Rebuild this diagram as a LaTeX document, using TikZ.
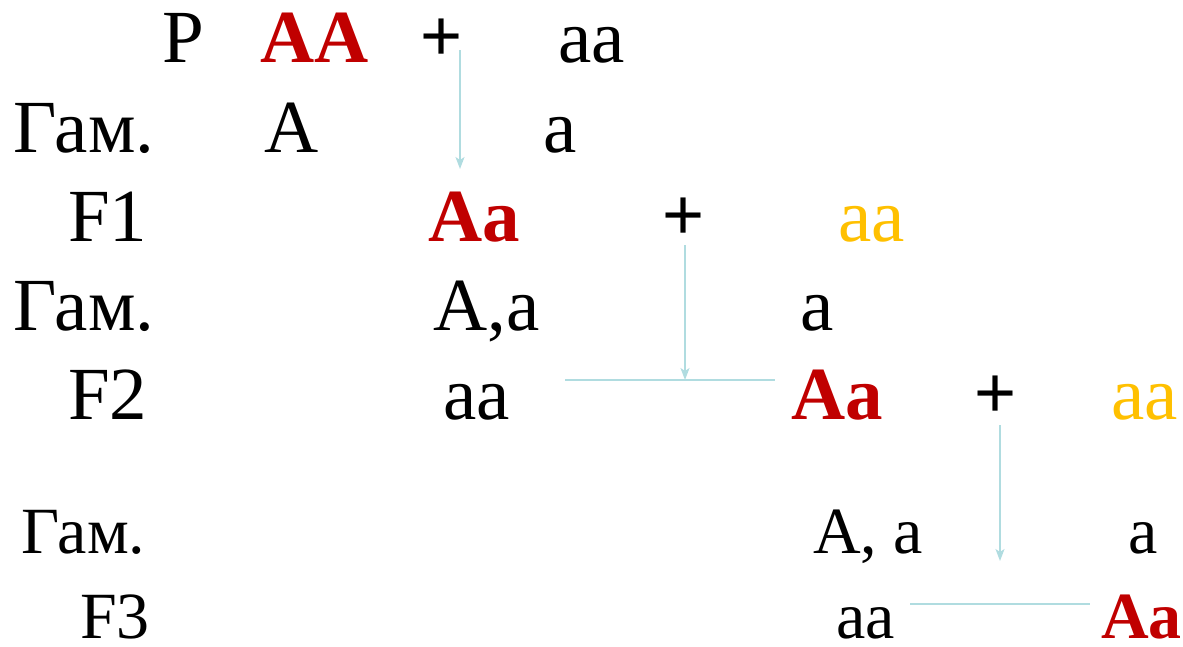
\documentclass[tikz,border=0pt]{standalone}
\usepackage{fontspec}
\setmainfont{Liberation Serif}
\newfontfamily\timesrm{Liberation Serif}
\newfontfamily\plusfont{Liberation Sans}
\usetikzlibrary{arrows.meta}
\definecolor{allele}{HTML}{C00000}
\definecolor{recess}{HTML}{FFC000}
\definecolor{link}{HTML}{B0DCE0}

\begin{document}
\begin{tikzpicture}[x=1pt,y=-1pt]
                \tikzstyle{lbl}=[anchor=base west,inner sep=0pt,text depth=0pt,font=\timesrm\fontsize{75}{80}\selectfont]
                \tikzstyle{lbls}=[anchor=base west,inner sep=0pt,text depth=0pt,font=\timesrm\fontsize{66}{70}\selectfont]
                \tikzstyle{dom}=[text=allele,font=\timesrm\fontsize{75}{80}\selectfont\bfseries]
                \tikzstyle{doms}=[text=allele,font=\timesrm\fontsize{66}{70}\selectfont\bfseries]
                \tikzstyle{rec}=[text=recess]
                \tikzstyle{plus}=[lbl,font=\plusfont\fontsize{72}{76}\selectfont]
                \tikzstyle{cross}=[draw=link,line width=1.6pt]
                \tikzstyle{feed}=[cross,-{Stealth[length=12pt,width=9pt,inset=3pt]}]
                \useasboundingbox (0,0) rectangle (1183,646);

                % row labels
                \foreach \name/\txt/\x/\y in {p/P/162/62, g1/Гам./13/152, f1/F1/68/241,
                                             g2/Гам./13/330, f2/F2/68/419}
                        \node[lbl] (L-\name) at (\x,\y) {\txt};
                \foreach \name/\txt/\x/\y in {g3/Гам./21/553, f3/F3/80/638}
                        \node[lbls] (L-\name) at (\x,\y) {\txt};

                % parents and gametes
                \node[lbl,dom] (AA) at (260,62) {AA};
                \node[plus] (plus1) at (420,60) {+};
                \node[lbl] (aa1) at (558,62) {aa};
                \node[lbl] (gA) at (264,152) {A};
                \node[lbl] (ga1) at (543,152) {a};

                \node[lbl,dom] (Aa1) at (428,241) {Aa};
                \node[plus] (plus2) at (662,239) {+};
                \node[lbl,rec] (aa2) at (838,241) {aa};
                \node[lbl] (gAa) at (433,330) {A,a};
                \node[lbl] (ga2) at (800,330) {a};

                \node[lbl] (aa3) at (443,419) {aa};
                \node[lbl,dom] (Aa2) at (791,419) {Aa};
                \node[plus] (plus3) at (974,417) {+};
                \node[lbl,rec] (aa4) at (1111,419) {aa};
                \node[lbls] (gAa2) at (813,553) {A, a};
                \node[lbls] (ga3) at (1128,553) {a};

                \node[lbls] (aa5) at (836,638) {aa};
                \node[lbls,doms] (Aa3) at (1101,638) {Aa};

                % crossing lines
                \coordinate (c1) at (460,50);
                \coordinate (e1) at (460,169);
                \draw[feed] (c1) -- (e1);

                \coordinate (c2) at (685,245);
                \coordinate (e2) at (685,380);
                \draw[cross] (565,380) -- (775,380);
                \draw[feed] (c2) -- (e2);

                \coordinate (c3) at (1000,425);
                \coordinate (e3) at (1000,561);
                \draw[cross] (910,604) -- (1090,604);
                \draw[feed] (c3) -- (e3);
\end{tikzpicture}
\end{document}
